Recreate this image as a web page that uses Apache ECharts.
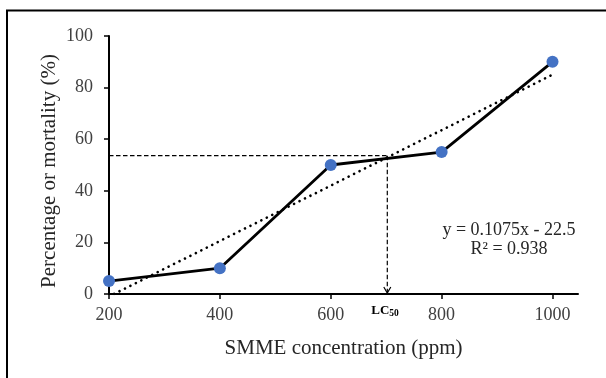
<!DOCTYPE html>
<html>
<head>
<meta charset="utf-8">
<script src="https://cdn.jsdelivr.net/npm/echarts@6/dist/echarts.min.js"></script>
<style>
html,body{margin:0;padding:0;background:#fff;}
#chart{width:606px;height:378px;}
</style>
</head>
<body>
<div id="chart"></div>
<script>
// Data
const concentrations = [200, 400, 600, 800, 1000];
const mortality = [5, 10, 50, 55, 90];
const xTicks = [200, 400, 600, 800, 1000];
const trendX = [209, 1000];
const trendY = [0, 85];
const lc50X = 702;
const lc50Y = 53.6;
const equationText = 'y = 0.1075x - 22.5';
const r2Text = 'R\u00b2 = 0.938';
const xTitle = 'SMME concentration (ppm)';
const yTitle = 'Percentage or mortality (%)';

const serif = '"Liberation Serif", "Times New Roman", serif';
const labelColor = '#404040';

const chart = echarts.init(document.getElementById('chart'), null, {renderer: 'canvas'});

const option = {
  animation: false,
  backgroundColor: '#fff',
  grid: {left: 109, right: 28, top: 36, bottom: 84, containLabel: false},
  xAxis: {
    type: 'value',
    min: 200,
    max: 1046,
    interval: 200,
    name: xTitle,
    nameLocation: 'middle',
    nameGap: 44,
    nameTextStyle: {fontFamily: serif, fontSize: 21, color: '#262626'},
    axisLine: {show: true, onZero: false, lineStyle: {color: '#000', width: 2}},
    axisTick: {show: true, length: 5, customValues: xTicks, lineStyle: {color: '#000', width: 1.5}},
    axisLabel: {customValues: xTicks, margin: 12, fontFamily: serif, fontSize: 18, color: labelColor,
      formatter: v => String(v)},
    splitLine: {show: false}
  },
  yAxis: {
    type: 'value',
    min: 0,
    max: 100,
    interval: 20,
    axisLine: {show: true, lineStyle: {color: '#000', width: 2}},
    axisTick: {show: true, length: 5, lineStyle: {color: '#000', width: 1.5}},
    axisLabel: {margin: 16, fontFamily: serif, fontSize: 18, color: labelColor},
    splitLine: {show: false}
  },
  graphic: [
    {type: 'rect', shape: {x: 7, y: 10.5, width: 700, height: 500}, style: {stroke: '#000', lineWidth: 2, fill: null}, silent: true, z: 100},
    {type: 'text', x: 49, y: 171, rotation: Math.PI / 2, style: {text: yTitle, font: '21px ' + serif, fill: '#262626', align: 'center', verticalAlign: 'middle'}},
    {type: 'text', x: 509, y: 230, style: {text: equationText, font: '18px ' + serif, fill: '#262626', align: 'center', verticalAlign: 'middle'}},
    {type: 'text', x: 509, y: 249, style: {text: r2Text, font: '18px ' + serif, fill: '#262626', align: 'center', verticalAlign: 'middle'}}
  ],
  series: [
    {
      type: 'custom',
      z: 1,
      clip: false,
      data: [[lc50X, lc50Y]],
      renderItem: function (params, api) {
        const p = api.coord([api.value(0), api.value(1)]);
        const o = api.coord([200, api.value(1)]);
        const b = api.coord([api.value(0), 0]);
        const dash = {stroke: '#000', lineWidth: 1.2, lineDash: [4.5, 2.5]};
        return {
          type: 'group',
          children: [
            {type: 'line', shape: {x1: o[0], y1: p[1], x2: p[0], y2: p[1]}, style: dash},
            {type: 'line', shape: {x1: p[0], y1: p[1], x2: b[0], y2: b[1] - 1.5}, style: dash},
            {type: 'polyline', shape: {points: [[b[0] - 3.5, b[1] - 7], [b[0], b[1] - 1], [b[0] + 3.5, b[1] - 7]]}, style: {stroke: '#000', lineWidth: 1.2, fill: null}},
            {type: 'text', x: b[0] + 2, y: b[1] + 17, style: {text: 'LC', font: 'bold 13px ' + serif, fill: '#000', align: 'right', verticalAlign: 'middle'}},
            {type: 'text', x: b[0] + 2, y: b[1] + 20, style: {text: '50', font: 'bold 9.5px ' + serif, fill: '#000', align: 'left', verticalAlign: 'middle'}}
          ]
        };
      }
    },
    {
      type: 'line',
      z: 2,
      data: trendX.map((x, i) => [x, trendY[i]]),
      symbol: 'none',
      lineStyle: {color: '#000', width: 2.6, type: [0.1, 6], cap: 'round'},
      silent: true
    },
    {
      type: 'line',
      z: 3,
      data: concentrations.map((x, i) => [x, mortality[i]]),
      symbol: 'circle',
      symbolSize: 12,
      showAllSymbol: true,
      itemStyle: {color: '#4472C4', borderWidth: 0},
      lineStyle: {color: '#000', width: 2.8},
      clip: false
    }
  ]
};
chart.setOption(option);
</script>
</body>
</html>
